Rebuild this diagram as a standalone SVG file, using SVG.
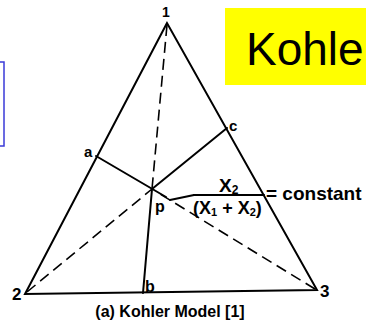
<svg xmlns="http://www.w3.org/2000/svg" width="366" height="328" viewBox="0 0 366 328">
<style>
.ln{stroke:#000;stroke-width:2;fill:none;stroke-linecap:round}
.ds{stroke:#000;stroke-width:1.6;fill:none;stroke-dasharray:11 6}
.lb{font-family:"Liberation Sans",Arial,sans-serif;font-weight:bold;fill:#000}
</style>
<rect width="366" height="328" fill="#fff"/>
<g id="blue-box"><rect x="-10" y="62" width="14" height="84" fill="#fff" stroke="#3a3ad8" stroke-width="1.5"/></g>
<g id="title"><rect x="225" y="8" width="150" height="77" fill="#ffff00"/>
<text x="246" y="65" font-family="Liberation Sans,Arial,sans-serif" font-size="46" fill="#000">Kohle</text></g>
<g id="connectors">
<polygon class="ln" points="167,23 25,294 317,290" stroke-linejoin="miter"/>
<line class="ln" x1="96" y1="156" x2="166" y2="197"/>
<line class="ln" x1="227" y1="128" x2="152" y2="189"/>
<line class="ln" x1="143" y1="293" x2="152" y2="189"/>
<line class="ds" x1="167" y1="25" x2="152" y2="189"/>
<line class="ds" x1="27" y1="292" x2="152" y2="189"/>
<line class="ds" x1="315" y1="289" x2="160" y2="194"/>
<line class="ln" x1="170" y1="200" x2="194" y2="195" stroke-width="1.6"/>
<line class="ln" x1="194" y1="195" x2="264" y2="195"/>
</g>
<g id="v1"><text class="lb" x="166" y="17" font-size="14" text-anchor="middle">1</text></g>
<g id="v2"><text class="lb" x="12" y="300" font-size="17">2</text></g>
<g id="v3"><text class="lb" x="320" y="297" font-size="17">3</text></g>
<g id="pa"><text class="lb" x="84" y="157" font-size="15">a</text></g>
<g id="pb"><text class="lb" x="145" y="292" font-size="16">b</text></g>
<g id="pc"><text class="lb" x="229" y="131" font-size="15">c</text></g>
<g id="pp"><text class="lb" x="155" y="212" font-size="16">p</text></g>
<g id="formula">
<text class="lb" x="219" y="192" font-size="19">X<tspan font-size="12" dy="2">2</tspan></text>
<text class="lb" x="193" y="214" font-size="18">(X<tspan font-size="11" dy="2">1</tspan><tspan dy="-2"> + X</tspan><tspan font-size="11" dy="2">2</tspan><tspan dy="-2">)</tspan></text>
<text class="lb" x="266" y="200" font-size="19">= constant</text>
</g>
<g id="caption"><text class="lb" x="170" y="317" font-size="16" text-anchor="middle">(a) Kohler Model [1]</text></g>
</svg>
